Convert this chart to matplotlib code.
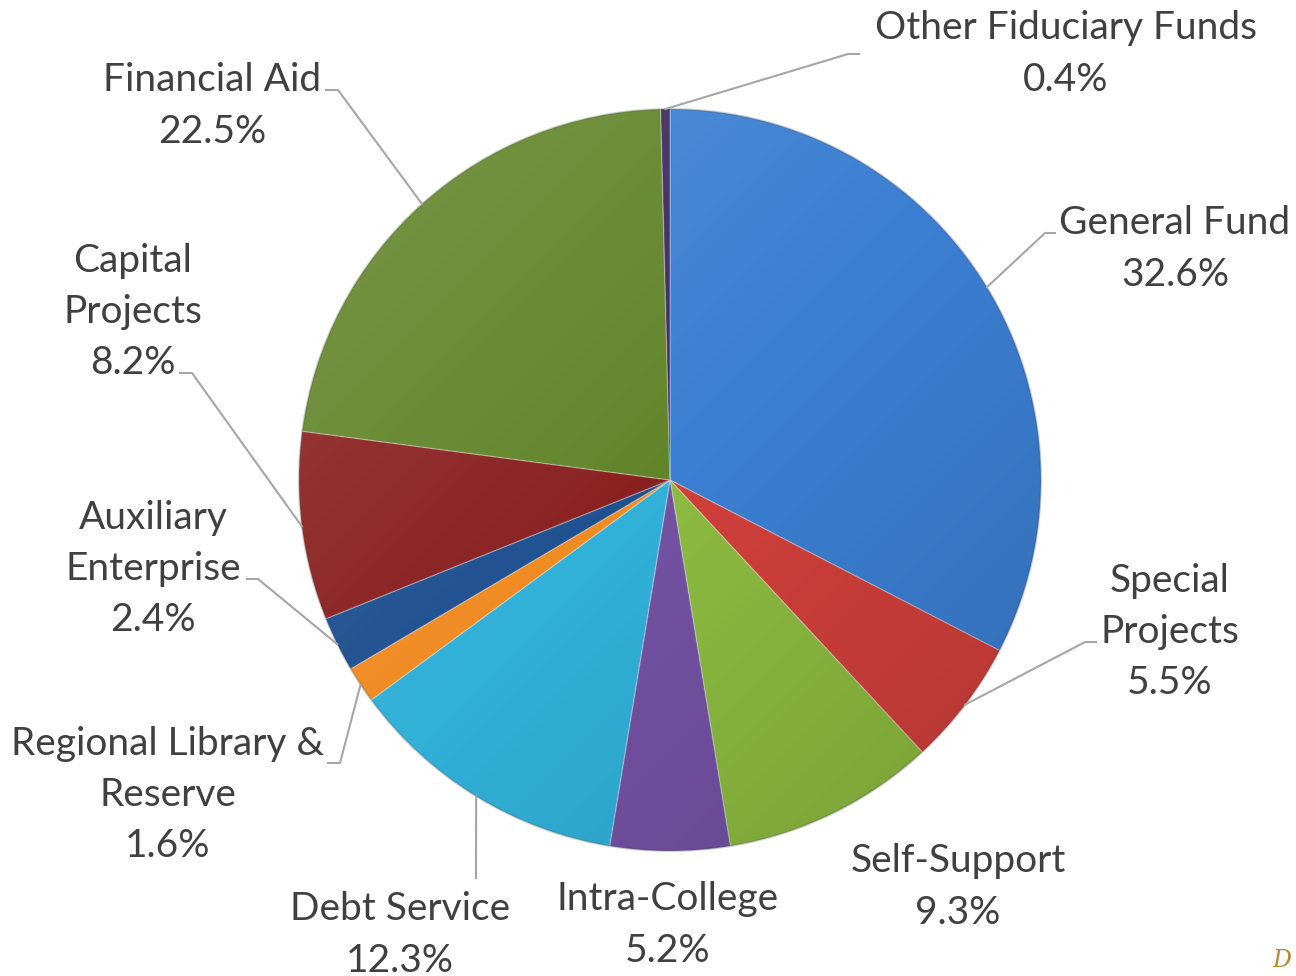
import numpy as np
import matplotlib.pyplot as plt
from matplotlib.patches import Circle

# fund shares, clockwise from 12 o'clock
funds = ['General Fund', 'Special\nProjects', 'Self-Support', 'Intra-College',
         'Debt Service', 'Regional Library &\nReserve', 'Auxiliary\nEnterprise',
         'Capital\nProjects', 'Financial Aid', 'Other Fiduciary Funds']
shares = [32.6, 5.5, 9.3, 5.2, 12.3, 1.6, 2.4, 8.2, 22.5, 0.4]
colors = ['#3b7fd2', '#d1403b', '#8cbb40', '#7452a3', '#31b0d8',
          '#f08b22', '#1f5090', '#8a2121', '#62852a', '#3d2b5e']

W, H = 1296, 976
CX, CY, R = 670, 480, 371          # pie centre / radius in pixels (y from top)

# label text centre (px from top-left) and leader elbow (None = no leader)
label_pos = [(1175, 249), (1170, 632), (958, 887), (668, 925), (400, 935),
             (168, 795), (153, 569), (133, 312), (212, 106), (1066, 54)]
leader_elbow = [((1055, 233), (1045, 233)), ((1096, 642), (1085, 642)), None, None,
                ((476, 878), (476, 878)), ((328, 763), (340, 763)),
                ((247, 579), (258, 579)), ((180, 373), (192, 373)),
                ((326, 90), (338, 90)), ((859, 54), (848, 54))]

fig = plt.figure(figsize=(W / 100, H / 100), dpi=100)
ax = fig.add_axes([0, 0, 1, 1])

cy = H - CY
wedges, _ = ax.pie(shares, colors=colors, startangle=90, counterclock=False,
                   center=(CX, cy), radius=R, frame=True,
                   wedgeprops=dict(edgecolor=(1, 1, 1, 0.25), linewidth=1.0))
ax.set_xlim(0, W)
ax.set_ylim(0, H)
ax.set_aspect('equal')
ax.axis('off')

# soft shading: lighter top-left, darker bottom-right
n = 300
gx, gy = np.meshgrid(np.linspace(-1, 1, n), np.linspace(1, -1, n))
t = (gx - gy) / 2            # -1 top-left, +1 bottom-right
shade = np.zeros((n, n, 4))
shade[..., :3] = np.where(t[..., None] < 0, 1.0, 0.0)
shade[..., 3] = np.clip(np.abs(t) * 0.15, 0, 0.15)
im = ax.imshow(shade, extent=(CX - R, CX + R, cy - R, cy + R), zorder=3)
im.set_clip_path(Circle((CX, cy), R, transform=ax.transData))
ax.add_patch(Circle((CX, cy), R, fill=False, edgecolor=(0, 0, 0, 0.18), lw=1.5, zorder=3))

text_kw = dict(fontsize=28, color='#404040', ha='center', va='center',
               family=['Lato', 'DejaVu Sans'], linespacing=1.52)
cum = np.cumsum([0] + shares[:-1])
for i, (name, v) in enumerate(zip(funds, shares)):
    lx, ly = label_pos[i]
    ax.text(lx, H - ly, f'{name}\n{v}%', zorder=5, **text_kw)
    if leader_elbow[i] is None:
        continue
    mid = np.deg2rad((cum[i] + v / 2) / 100 * 360)
    px, py = CX + R * np.sin(mid), CY - R * np.cos(mid)
    (x0, y0), (x1, y1) = leader_elbow[i]
    ax.plot([x0, x1, px], [H - y0, H - y1, H - py], color='#a6a6a6', lw=1.5, zorder=4)

ax.text(1272, H - 972, 'D', fontsize=17, color='#b8892a', ha='left', va='bottom',
        family='DejaVu Serif', style='italic')

fig.savefig('out.png', dpi=100)
